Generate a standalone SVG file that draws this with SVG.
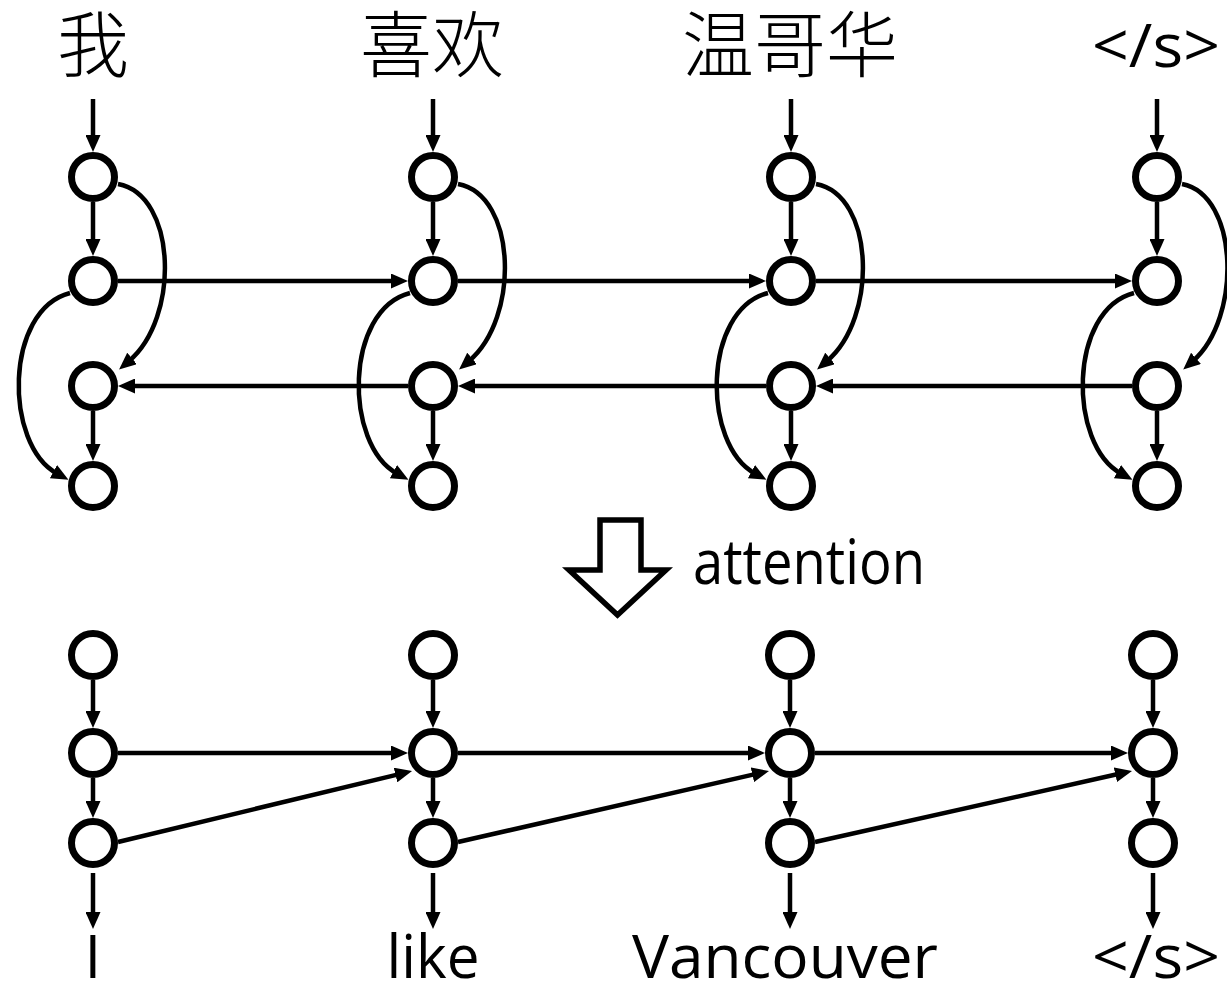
<svg xmlns="http://www.w3.org/2000/svg" width="1227" height="996" viewBox="0 0 1227 996">
  <style>
    .node { fill: #fff; stroke: #000; stroke-width: 7; }
    .edge { fill: none; stroke: #000; stroke-width: 4.5; marker-end: url(#arrow); }
    .word { font-family: "Open Sans", "Liberation Sans", sans-serif; font-size: 60px; fill: #000; text-anchor: middle; }
    .zh { font-family: "Liberation Serif", "Noto Sans CJK SC", serif; font-size: 72px; font-weight: 300; fill: #000; text-anchor: middle; }
  </style>
  <defs>
    <!-- arrowhead tip sits 13px beyond the path end -->
    <marker id="arrow" markerUnits="userSpaceOnUse" markerWidth="17" markerHeight="15" refX="4" refY="7.5" orient="auto">
      <path d="M0,0 L17,7.5 L0,15 z" fill="#000"/>
    </marker>
  </defs>
  <rect width="1227" height="996" fill="#fff"/>

  <!-- source words -->
  <g id="src-labels">
    <text class="zh" x="93" y="71">我</text>
    <text class="zh" x="432" y="71">喜欢</text>
    <text class="zh" x="790" y="71">温哥华</text>
    <text class="word" x="1156" y="67" textLength="128" lengthAdjust="spacingAndGlyphs">&lt;/s&gt;</text>
  </g>

  <!-- connectors -->
  <g id="connectors">
    <!-- encoder: inputs -->
    <path class="edge" d="M93 99 V139"/>
    <path class="edge" d="M433 99 V139"/>
    <path class="edge" d="M791 99 V139"/>
    <path class="edge" d="M1157 99 V139"/>
    <!-- encoder: layer 1 to layer 2 -->
    <path class="edge" d="M93 202 V243"/>
    <path class="edge" d="M433 202 V243"/>
    <path class="edge" d="M791 202 V243"/>
    <path class="edge" d="M1157 202 V243"/>
    <!-- encoder: layer 3 to layer 4 -->
    <path class="edge" d="M93 411 V448"/>
    <path class="edge" d="M433 411 V448"/>
    <path class="edge" d="M791 411 V448"/>
    <path class="edge" d="M1157 411 V448"/>
    <!-- encoder: skip curves on the right (layer 1 to layer 3) -->
    <path class="edge" d="M118 184 C177 195, 180 318, 129 361"/>
    <path class="edge" d="M458 184 C517 195, 520 318, 469 361"/>
    <path class="edge" d="M816 184 C875 195, 878 318, 827 361"/>
    <path class="edge" d="M1182 184 C1239 195, 1242 318, 1193 361"/>
    <!-- encoder: skip curves on the left (layer 2 to layer 4) -->
    <path class="edge" d="M70 293 C4 310, 4 445, 57 473.5"/>
    <path class="edge" d="M410 293 C344 310, 344 445, 397 473.5"/>
    <path class="edge" d="M768 293 C702 310, 702 445, 755 473.5"/>
    <path class="edge" d="M1134 293 C1068 310, 1068 445, 1121 473.5"/>
    <!-- encoder: forward recurrence -->
    <path class="edge" d="M118 281 H395"/>
    <path class="edge" d="M458 281 H753"/>
    <path class="edge" d="M816 281 H1119"/>
    <!-- encoder: backward recurrence -->
    <path class="edge" d="M408 386 H131"/>
    <path class="edge" d="M766 386 H471"/>
    <path class="edge" d="M1132 386 H829"/>

    <!-- decoder: vertical -->
    <path class="edge" d="M93 680 V715"/>
    <path class="edge" d="M433 680 V715"/>
    <path class="edge" d="M790 680 V715"/>
    <path class="edge" d="M1153 680 V715"/>
    <path class="edge" d="M93 778 V805"/>
    <path class="edge" d="M433 778 V805"/>
    <path class="edge" d="M790 778 V805"/>
    <path class="edge" d="M1153 778 V805"/>
    <!-- decoder: outputs -->
    <path class="edge" d="M93 873 V916"/>
    <path class="edge" d="M433 873 V916"/>
    <path class="edge" d="M790 873 V916"/>
    <path class="edge" d="M1153 873 V916"/>
    <!-- decoder: recurrence -->
    <path class="edge" d="M118 753 H395"/>
    <path class="edge" d="M458 753 H752"/>
    <path class="edge" d="M815 753 H1115"/>
    <!-- decoder: feed previous output state -->
    <path class="edge" d="M118 842 L399.4 774.1"/>
    <path class="edge" d="M458 842 L756.3 773.9"/>
    <path class="edge" d="M815 842 L1119.3 773.8"/>
  </g>

  <!-- encoder nodes -->
  <g id="enc-0"><circle class="node" cx="93" cy="177" r="21.5"/><circle class="node" cx="93" cy="281" r="21.5"/><circle class="node" cx="93" cy="386" r="21.5"/><circle class="node" cx="93" cy="486" r="21.5"/></g>
  <g id="enc-1"><circle class="node" cx="433" cy="177" r="21.5"/><circle class="node" cx="433" cy="281" r="21.5"/><circle class="node" cx="433" cy="386" r="21.5"/><circle class="node" cx="433" cy="486" r="21.5"/></g>
  <g id="enc-2"><circle class="node" cx="791" cy="177" r="21.5"/><circle class="node" cx="791" cy="281" r="21.5"/><circle class="node" cx="791" cy="386" r="21.5"/><circle class="node" cx="791" cy="486" r="21.5"/></g>
  <g id="enc-3"><circle class="node" cx="1157" cy="177" r="21.5"/><circle class="node" cx="1157" cy="281" r="21.5"/><circle class="node" cx="1157" cy="386" r="21.5"/><circle class="node" cx="1157" cy="486" r="21.5"/></g>

  <!-- attention block arrow -->
  <g id="attention">
    <polygon points="600,520 641,520 641,570 666,570 617.5,615 569,570 600,570" fill="#fff" stroke="#000" stroke-width="5.5" stroke-linejoin="miter"/>
    <text class="word" x="693" y="584" style="text-anchor:start; font-size:62px" textLength="232" lengthAdjust="spacingAndGlyphs">attention</text>
  </g>

  <!-- decoder nodes -->
  <g id="dec-0"><circle class="node" cx="93" cy="655" r="21.5"/><circle class="node" cx="93" cy="753" r="21.5"/><circle class="node" cx="93" cy="843" r="21.5"/></g>
  <g id="dec-1"><circle class="node" cx="433" cy="655" r="21.5"/><circle class="node" cx="433" cy="753" r="21.5"/><circle class="node" cx="433" cy="843" r="21.5"/></g>
  <g id="dec-2"><circle class="node" cx="790" cy="655" r="21.5"/><circle class="node" cx="790" cy="753" r="21.5"/><circle class="node" cx="790" cy="843" r="21.5"/></g>
  <g id="dec-3"><circle class="node" cx="1153" cy="655" r="21.5"/><circle class="node" cx="1153" cy="753" r="21.5"/><circle class="node" cx="1153" cy="843" r="21.5"/></g>

  <!-- target words -->
  <g id="tgt-labels">
    <text class="word" x="93" y="978">I</text>
    <text class="word" x="433" y="978" textLength="93" lengthAdjust="spacingAndGlyphs">like</text>
    <text class="word" x="785" y="978" textLength="306" lengthAdjust="spacingAndGlyphs">Vancouver</text>
    <text class="word" x="1156" y="978" textLength="128" lengthAdjust="spacingAndGlyphs">&lt;/s&gt;</text>
  </g>
</svg>
